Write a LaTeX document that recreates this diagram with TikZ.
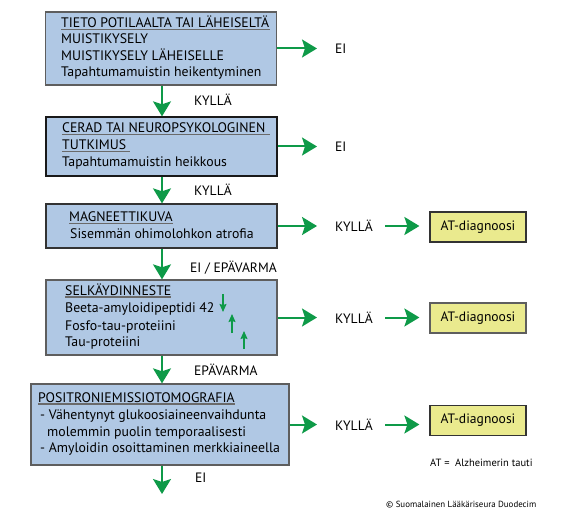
\documentclass[tikz,border=0pt]{standalone}
\usepackage{fontspec}
\setmainfont{PT Sans}
\usetikzlibrary{arrows.meta}
\definecolor{boxblue}{HTML}{B0C8E4}
\definecolor{atyellow}{HTML}{EAEA8E}
\definecolor{flowgreen}{HTML}{0E9A48}
\definecolor{edgegray}{HTML}{5E5E5E}
\definecolor{ulgray}{HTML}{6A6A6A}
\tikzset{
  x=1pt, y=-1pt,
  bluebox/.style={draw=edgegray, line width=1.3pt, fill=boxblue, inner sep=0, minimum width=#1},
  bluebox/.default=231pt,
  atbox/.style={draw=black!80, line width=1.2pt, fill=atyellow, inner sep=0, minimum width=96pt, minimum height=30pt, font=\fontsize{13.6}{15}\selectfont},
  txt/.style={inner sep=0, anchor=base west, font=\fontsize{13.8}{15}\selectfont},
  lbl/.style={inner sep=0, anchor=west, font=\fontsize{13.6}{15}\selectfont},
  ul/.style={draw=ulgray, line width=1.5pt},
  flow/.style={draw=flowgreen, line width=2pt, -{Stealth[length=15pt, width=18pt, inset=3pt]}},
  small/.style={draw=flowgreen, line width=1.2pt, -{Stealth[length=8pt, width=7pt, inset=1pt]}},
}
\begin{document}
\begin{tikzpicture}
\useasboundingbox[fill=white] (0,0) rectangle (565,516);

% boxes
\node[bluebox, minimum height=73pt] (b1) at (161,48.5) {};
\node[bluebox, draw=black!90, minimum height=59pt] (b2) at (161.5,146.5) {};
\node[bluebox, draw=black!80, minimum height=44pt] (b3) at (161.5,226) {};
\node[bluebox, minimum height=75pt] (b4) at (161.5,317.5) {};
\node[bluebox=258pt, minimum height=81pt] (b5) at (160,424.5) {};

% box 1 text
\node[txt] (h1) at (61,27.5) {TIETO POTILAALTA TAI LÄHEISELTÄ};
\draw[ul] ([yshift=-2pt]h1.base west) -- ([yshift=-2pt,xshift=1pt]h1.base east);
\node[txt] (t1a) at (61,44) {MUISTIKYSELY};
\node[txt] (t1b) at (61,60.5) {MUISTIKYSELY LÄHEISELLE};
\node[txt] (t1c) at (61,77) {Tapahtumamuistin heikentyminen};

% box 2 text
\node[txt] (h2a) at (62,132.5) {CERAD TAI NEUROPSYKOLOGINEN};
\draw[ul] ([yshift=-2pt]h2a.base west) -- ([yshift=-2pt,xshift=4pt]h2a.base east);
\node[txt] (h2b) at (62,149.5) {TUTKIMUS};
\draw[ul] ([yshift=-2pt]h2b.base west) -- ([yshift=-2pt,xshift=4pt]h2b.base east);
\node[txt] (t2) at (62,167) {Tapahtumamuistin heikkous};

% box 3 text
\node[txt] (h3) at (69,221.5) {MAGNEETTIKUVA};
\draw[ul] ([yshift=-2pt]h3.base west) -- ([yshift=-2pt]h3.base east);
\node[txt] (t3) at (70,238.5) {Sisemmän ohimolohkon atrofia};

% box 4 text
\node[txt] (h4) at (65,295) {SELKÄYDINNESTE};
\draw[ul] ([yshift=-2pt]h4.base west) -- ([yshift=-2pt]h4.base east);
\node[txt] (t4a) at (65,312.5) {Beeta-amyloidipeptidi 42};
\node[txt] (t4b) at (65,330) {Fosfo-tau-proteiini};
\node[txt] (t4c) at (65,346.5) {Tau-proteiini};
\coordinate (d1s) at (223,294); \coordinate (d1e) at (223,312);
\coordinate (u1s) at (232,333); \coordinate (u1e) at (232,314);
\coordinate (u2s) at (244,349); \coordinate (u2e) at (244,331);
\draw[small] (d1s) -- (d1e);
\draw[small] (u1s) -- (u1e);
\draw[small] (u2s) -- (u2e);

% box 5 text
\node[txt] (h5) at (38,402) {POSITRONIEMISSIOTOMOGRAFIA};
\draw[ul] ([yshift=-2pt]h5.base west) -- ([yshift=-2pt]h5.base east);
\node[txt] (t5a) at (40,419) {- Vähentynyt glukoosiaineenvaihdunta};
\node[txt] (t5b) at (47,436) {molemmin puolin temporaalisesti};
\node[txt] (t5c) at (40,452.5) {- Amyloidin osoittaminen merkkiaineella};

% vertical flow
\draw[flow] (b1.south -| 162,0) -- (b2.north -| 162,0);
\draw[flow] (b2.south -| 162,0) -- (b3.north -| 162,0);
\draw[flow] (b3.south -| 162,0) -- (b4.north -| 162,0);
\draw[flow] (b4.south -| 162,0) -- (b5.north -| 162,0);
\coordinate (endb) at (162,494);
\draw[flow] (b5.south -| 162,0) -- (endb);

\node[lbl] (k1) at (194,100) {KYLLÄ};
\node[lbl] (k2) at (194,190) {KYLLÄ};
\node[lbl] (k3) at (190,268) {EI / EPÄVARMA};
\node[lbl] (k4) at (194,370) {EPÄVARMA};
\node[lbl] (k5) at (195,478) {EI};

% right side
\node[lbl] (e1) at (335,48.5) {EI};
\node[lbl] (e2) at (335,146.5) {EI};
\draw[flow, shorten >=18pt] (b1.east) -- (e1.west);
\draw[flow, shorten >=18pt] (b2.east) -- (e2.west);

\node[lbl] (y3) at (335,226) {KYLLÄ};
\node[lbl] (y4) at (335,317.5) {KYLLÄ};
\node[lbl] (y5) at (335,424.5) {KYLLÄ};
\draw[flow, shorten >=18pt] (b3.east) -- (y3.west);
\draw[flow, shorten >=18pt] (b4.east) -- (y4.west);
\draw[flow, shorten >=18pt] (b5.east) -- (y5.west);

\node[atbox] (a3) at (478,227) {AT-diagnoosi};
\node[atbox, draw=edgegray] (a4) at (478,318) {AT-diagnoosi};
\node[atbox] (a5) at (478,420.5) {AT-diagnoosi};
\draw[flow, shorten <=12pt, shorten >=10pt] (y3.east) -- (a3.west |- y3.east);
\draw[flow, shorten <=12pt, shorten >=10pt] (y4.east) -- (a4.west |- y4.east);
\draw[flow, shorten <=12pt, shorten >=10pt] (y5.east) -- (a5.west |- y5.east);

\node[inner sep=0, anchor=west, font=\fontsize{10.5}{12}\selectfont] (leg) at (430,463) {AT =\ \ Alzheimerin tauti};
\node[inner sep=0, anchor=west, font=\fontsize{8.9}{10}\selectfont] (copy) at (386,505) {© Suomalainen Lääkäriseura Duodecim};
\end{tikzpicture}
\end{document}
